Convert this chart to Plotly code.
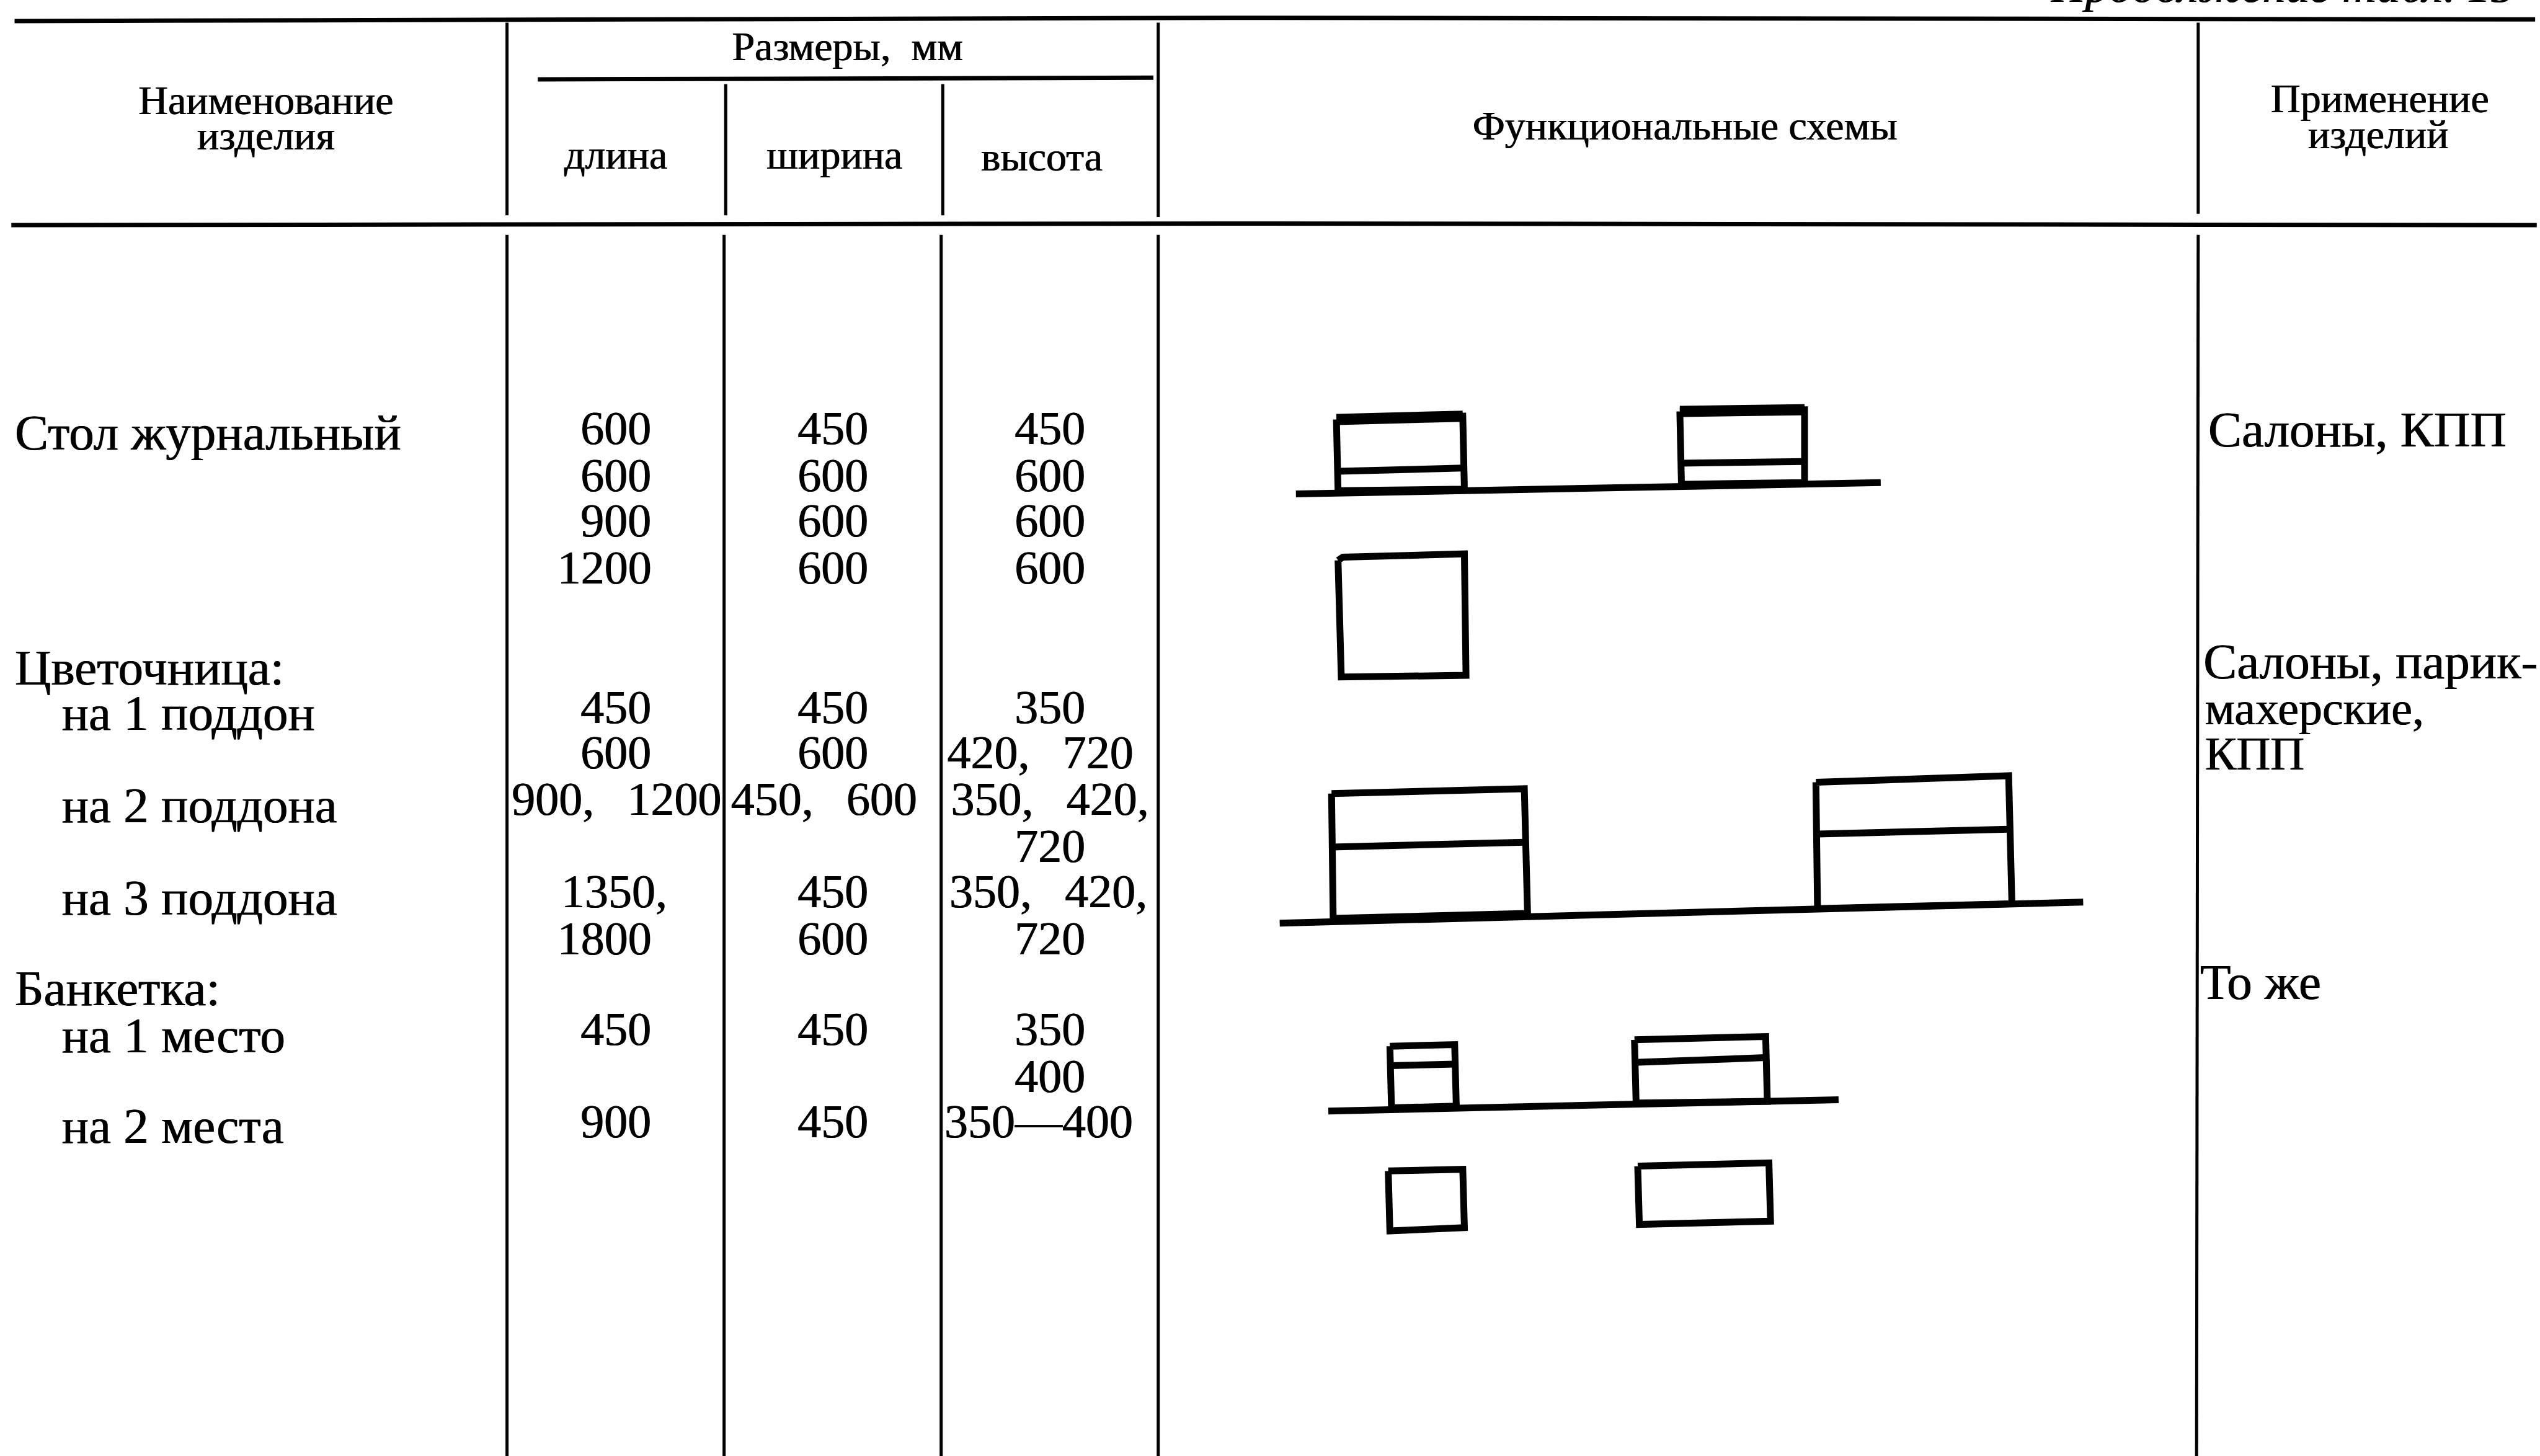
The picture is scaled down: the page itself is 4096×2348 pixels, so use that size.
import plotly.graph_objects as go

W, H = 4096, 2348
FONT = "Liberation Serif"
NB = "\u00a0"
GAP = NB * 2 + "\u2009"
# Page coordinates of the reference (1568 x 899 view)
body_left = [
    ("Стол журнальный", 9, 270), ("Цветочница:", 9, 415), (f"на{NB}1{NB}поддон", 38, 443),
    (f"на{NB}2{NB}поддона", 38, 500), (f"на{NB}3{NB}поддона", 38, 557), ("Банкетка:", 9, 613),
    (f"на{NB}1{NB}место", 38, 642), (f"на{NB}2{NB}места", 38, 698),
    ("Салоны, КПП", 1363, 268), ("Салоны, парик-", 1360, 411), ("То же", 1358, 609),
]
small_left = [("махерские,", 1361, 440), ("КПП", 1361, 468)]
dlina = [("600", 380, 267), ("600", 380, 296), ("900", 380, 324), ("1200", 373, 353), ("450", 380, 439),
         ("600", 380, 467), (f"900,{GAP}1200", 380.5, 496), ("1350,", 379, 553), ("1800", 373, 582),
         ("450", 380, 638), ("900", 380, 695)]
shirina = [("450", 514, 267), ("600", 514, 296), ("600", 514, 324), ("600", 514, 353), ("450", 514, 439),
           ("600", 514, 467), (f"450,{GAP}600", 508.5, 496), ("450", 514, 553), ("600", 514, 582),
           ("450", 514, 638), ("450", 514, 695)]
vysota = [("450", 648, 267), ("600", 648, 296), ("600", 648, 324), ("600", 648, 353), ("350", 648, 439),
          (f"420,{GAP}720", 642, 467), (f"350,{GAP}420,", 648, 496), ("720", 648, 525), (f"350,{GAP}420,", 647, 553),
          ("720", 648, 582), ("350", 648, 638), ("400", 648, 667), ("350—400", 641, 695)]
header = [("Наименование", 164, 64), ("изделия", 164, 86), (f"Размеры,{NB}{NB}мм", 523, 31), ("длина", 380, 98),
          ("ширина", 515, 98), ("высота", 643, 99), ("Функциональные схемы", 1040, 80),
          ("Применение", 1469, 63), ("изделий", 1468, 85)]
running_head = [("Продолжение табл. 15", 1409, -6)]

rules = [[(9, 13), (760, 11), (1565, 12)], [(7, 139), (760, 138), (1566, 139)], [(332, 49), (712, 48)]]
verticals = [[(313, 14), (313, 133)], [(313, 145), (313, 899)], [(448, 52), (448, 133)], [(447, 145), (447, 899)],
             [(582, 52), (582, 133)], [(581, 145), (581, 899)], [(715, 14), (715, 134)], [(715, 145), (715, 899)],
             [(1357, 14), (1357, 132)], [(1357, 145), (1356, 899)]]
schemes = [
    [(800, 305), (1161, 298)], [(825, 259), (903, 257), (904, 302), (826, 303), (825, 259)], [(826, 291), (903, 289)],
    [(1037, 254), (1114, 253), (1114, 298), (1038, 299), (1037, 254)], [(1037, 286), (1114, 285)],
    [(826, 346), (829, 344), (904, 342), (905, 417), (828, 418), (826, 346)],
    [(790, 570), (1286, 557)], [(822, 490), (941, 487), (943, 564), (823, 567), (822, 490)], [(822, 523), (941, 520)],
    [(1121, 483), (1240, 479), (1242, 558), (1122, 561), (1121, 483)], [(1122, 515), (1240, 512)],
    [(820, 686), (1135, 679)], [(858, 646), (898, 645), (899, 683), (859, 684), (858, 646)], [(858, 658), (898, 657)],
    [(1009, 642), (1090, 640), (1091, 680), (1010, 681), (1009, 642)], [(1009, 656), (1090, 653)],
    [(857, 723), (903, 722), (904, 758), (858, 760), (857, 723)],
    [(1011, 720), (1092, 718), (1093, 754), (1012, 756), (1011, 720)],
]
thick = [[(825, 259), (903, 257)], [(1037, 254), (1114, 253)]]

fig = go.Figure()


def lines(groups, width):
    for g in groups:
        fig.add_trace(go.Scatter(x=[p[0] for p in g], y=[p[1] for p in g], mode="lines",
                                 line=dict(color="#000", width=width), hoverinfo="skip"))


def texts(items, size, pos="middle center", style="normal"):
    fig.add_trace(go.Scatter(x=[i[1] for i in items], y=[i[2] for i in items], text=[i[0] for i in items],
                             mode="text", textposition=pos, cliponaxis=True, hoverinfo="skip",
                             textfont=dict(family=FONT, size=size, color="#000", style=style,
                                           shadow="1px 0 0 #000")))


lines(rules, 7)
lines(verticals, 5)
lines(schemes, 11)
lines(thick, 18)
texts(body_left, 81, "middle right")
texts(small_left, 76, "middle right")
texts(dlina, 76)
texts(shirina, 76)
texts(vysota, 76)
texts(header, 66)
texts(running_head, 76, style="italic")

fig.update_layout(width=W, height=H, autosize=False, margin=dict(l=0, r=0, t=0, b=0), showlegend=False,
                  paper_bgcolor="#fff", plot_bgcolor="#fff",
                  xaxis=dict(range=[0, 1568], visible=False, fixedrange=True),
                  yaxis=dict(range=[899, 0], visible=False, fixedrange=True))
fig.write_html("out.html", post_script="document.body.style.margin='0';", config={"displayModeBar": False})
